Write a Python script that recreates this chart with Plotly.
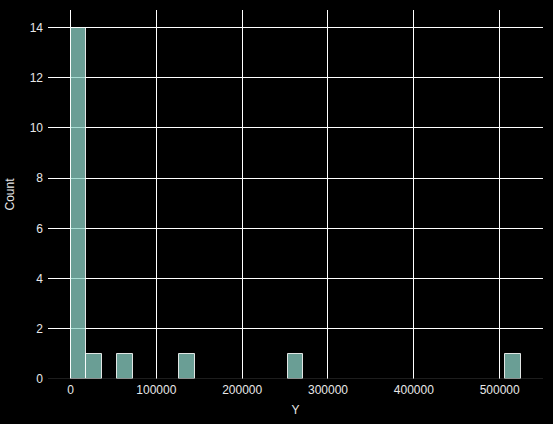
import numpy as np
import plotly.graph_objects as go

y_values = [2, 4, 8, 16, 32, 64, 128, 256, 512, 1024, 2048, 4096, 8192, 16384,
            32768, 65536, 131072, 262144, 524288]
n_bins = 29
x_ticks = [0, 100000, 200000, 300000, 400000, 500000]
y_ticks = [0, 2, 4, 6, 8, 10, 12, 14]

counts, edges = np.histogram(y_values, bins=n_bins)
centers = (edges[:-1] + edges[1:]) / 2
width = edges[1] - edges[0]

mask = counts > 0
fig = go.Figure()
fig.add_trace(go.Bar(
    x=centers[mask], y=counts[mask], width=width,
    marker=dict(color="rgba(141,211,199,0.75)",
                line=dict(color="rgba(255,255,255,0.85)", width=1)),
    hoverinfo="x+y", showlegend=False,
))

span = edges[-1] - edges[0]
fig.update_layout(
    width=553, height=424,
    paper_bgcolor="black", plot_bgcolor="black",
    margin=dict(l=48, r=10, t=10, b=45),
    font=dict(family="Liberation Sans, Arial, sans-serif", size=12, color="#e8e8e8"),
    bargap=0,
)
fig.update_xaxes(
    range=[edges[0] - 0.05 * span, edges[-1] + 0.05 * span],
    tickvals=x_ticks, ticktext=[str(v) for v in x_ticks],
    showgrid=True, gridcolor="white", gridwidth=1,
    zeroline=False, showline=False,
    ticks="", ticklen=0, ticklabelstandoff=2,
    title=dict(text="Y", standoff=9, font=dict(size=12)),
    tickfont=dict(size=12),
)
fig.update_yaxes(
    range=[0, counts.max() * 1.05],
    tickvals=y_ticks,
    showgrid=True, gridcolor="white", gridwidth=1,
    zeroline=False, showline=False,
    ticks="", ticklen=0, ticklabelstandoff=4,
    title=dict(text="Count", standoff=12, font=dict(size=12)),
    tickfont=dict(size=12),
)
# bottom spine
fig.add_shape(type="line", xref="paper", yref="y", x0=0, x1=1, y0=0, y1=0,
              line=dict(color="#3a3a3a", width=1.2), layer="above")

fig.write_html("out.html", config={"displayModeBar": False},
               post_script="document.body.style.margin='0';document.body.style.background='black';")
